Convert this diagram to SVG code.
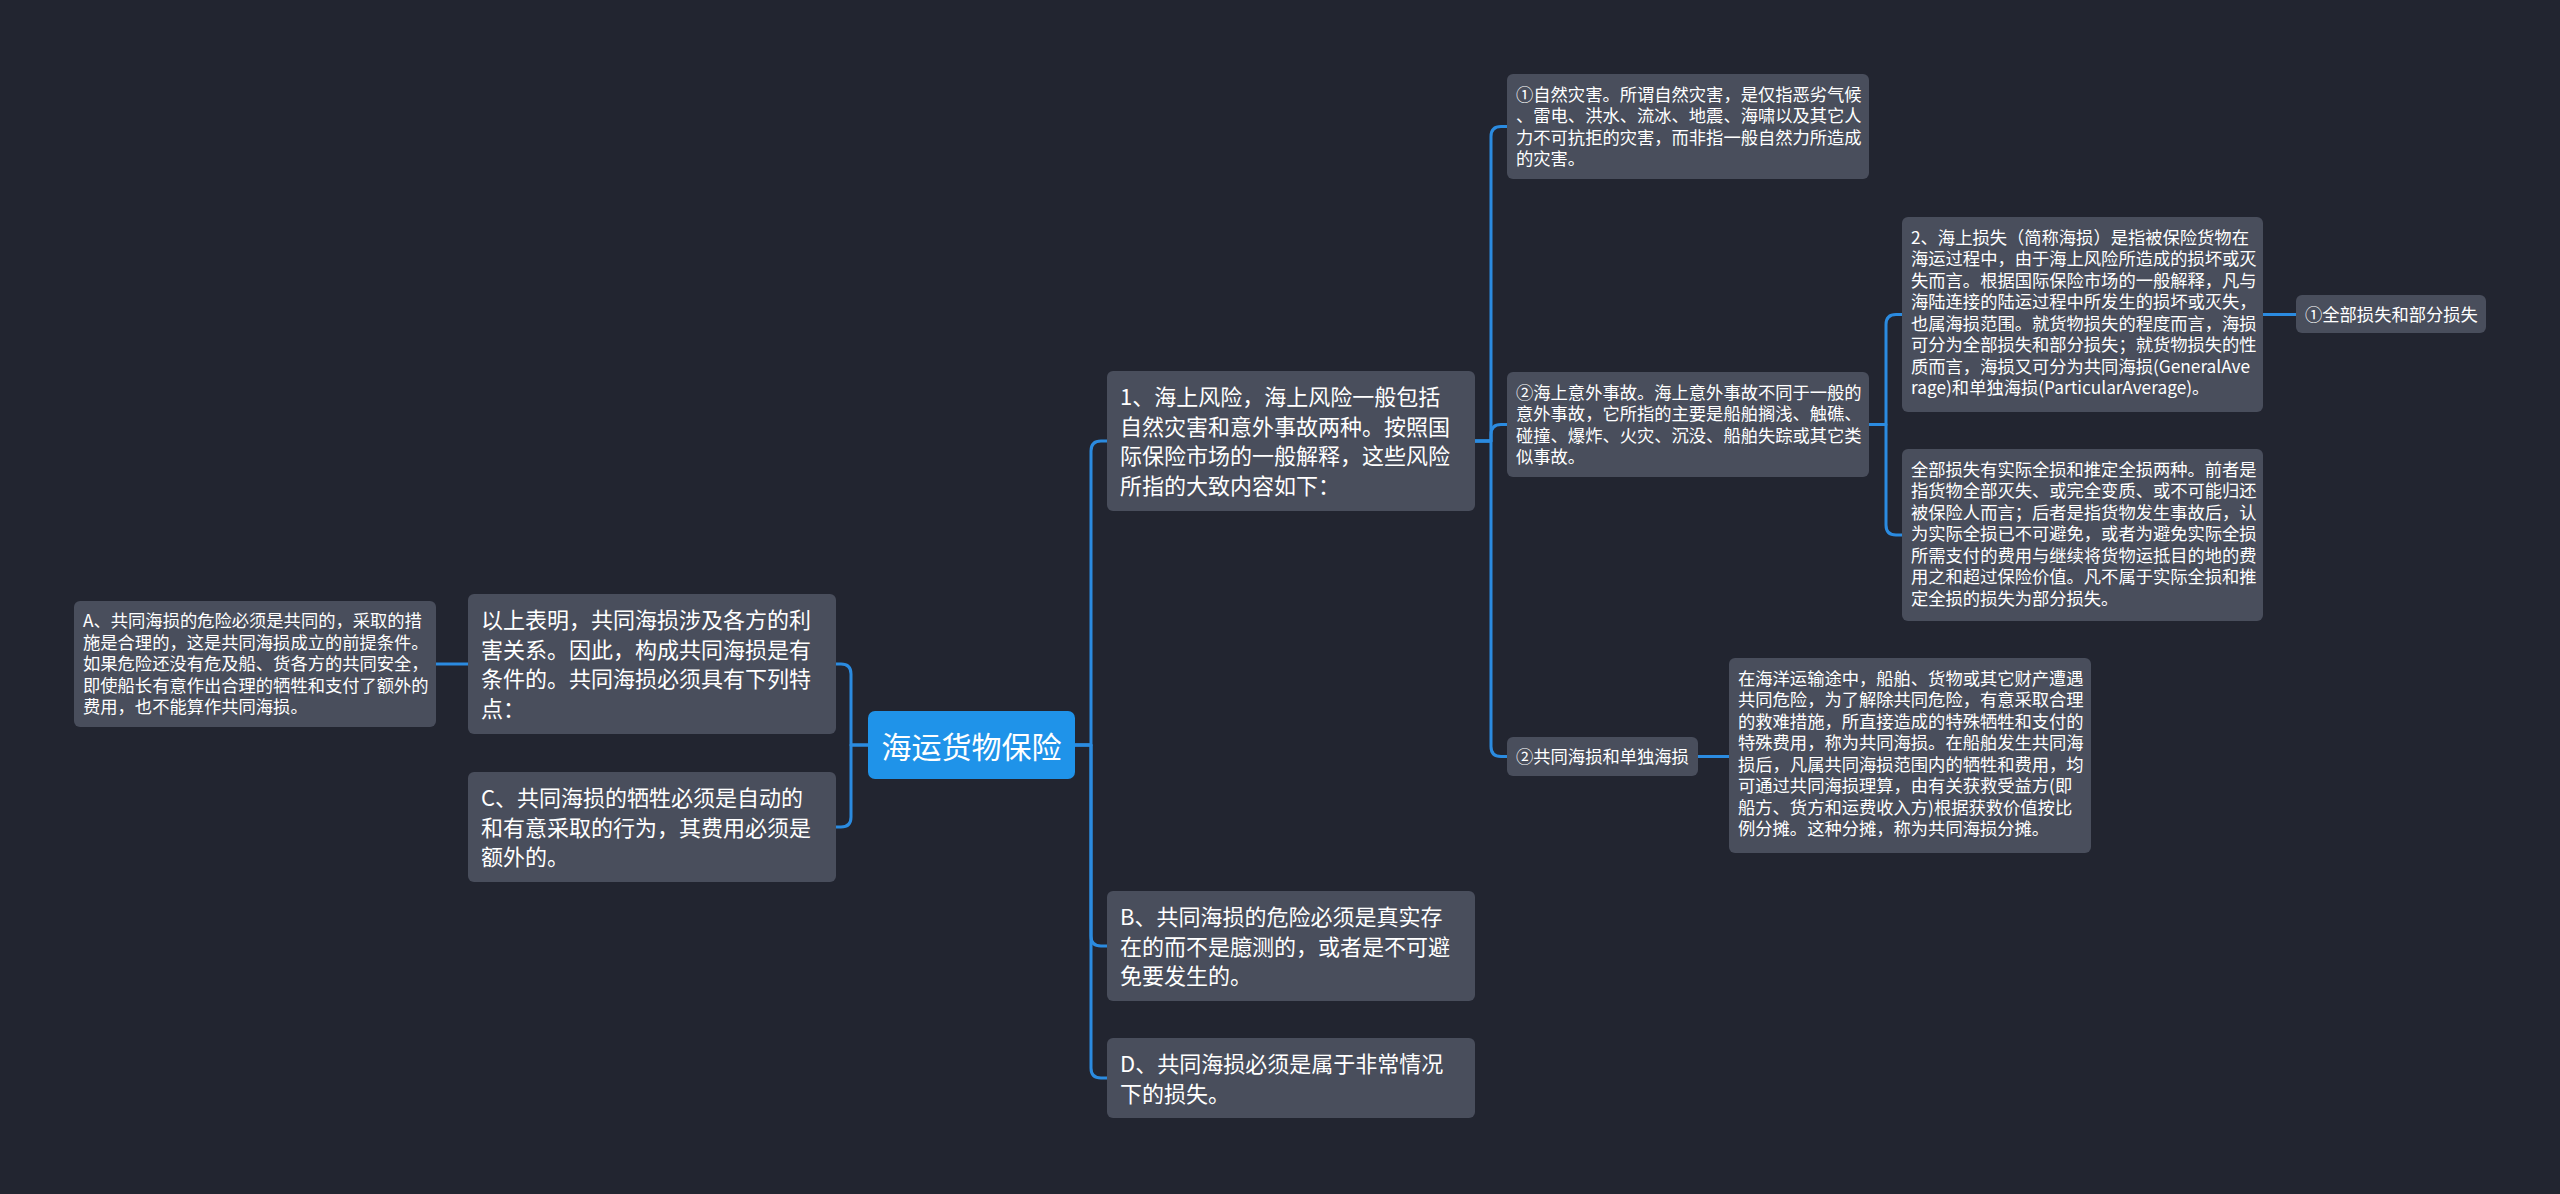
<svg xmlns="http://www.w3.org/2000/svg" width="2560" height="1194" viewBox="0 0 2560 1194">
<style>
.bg{fill:#222530}
.n{fill:#494e5c}
.root{fill:#1f93e9}
.t{fill:#ffffff;font-family:"Noto Sans CJK SC","Noto Sans",sans-serif}
.big{font-size:22px}
.sm{font-size:17.3px}
.rt{font-size:30px}
.c{fill:none;stroke:#2b8be0;stroke-width:3;stroke-linejoin:round}
</style>
<rect class="bg" x="0" y="0" width="2560" height="1194"/>
<g id="connectors">
<path class="c" d="M1075,745 H1091 V451 Q1091,441 1101,441 H1107"/>
<path class="c" d="M1075,745 H1091 V936 Q1091,946 1101,946 H1107"/>
<path class="c" d="M1075,745 H1091 V1068 Q1091,1078 1101,1078 H1107"/>
<path class="c" d="M868,745 H851 V674 Q851,664 841,664 H836"/>
<path class="c" d="M868,745 H851 V817 Q851,827 841,827 H836"/>
<path class="c" d="M468,664 H436"/>
<path class="c" d="M1475,441 H1491 V136.5 Q1491,126.5 1501,126.5 H1507"/>
<path class="c" d="M1475,441 H1491 V434.5 Q1491,424.5 1501,424.5 H1507"/>
<path class="c" d="M1475,441 H1491 V746.5 Q1491,756.5 1501,756.5 H1507"/>
<path class="c" d="M1869,424.5 H1886 V324.5 Q1886,314.5 1896,314.5 H1902"/>
<path class="c" d="M1869,424.5 H1886 V525 Q1886,535 1896,535 H1902"/>
<path class="c" d="M2263,314.5 H2296"/>
<path class="c" d="M1698,756.5 H1729"/>
</g>
<g id="root">
<rect class="root" x="868" y="711" width="207" height="68" rx="7"/>
<text class="t rt" x="971.5" y="758" text-anchor="middle">海运货物保险</text>
</g>
<g id="n1">
<rect class="n" x="1107" y="371" width="368" height="140" rx="6"/>
<text class="t big" x="1120"><tspan x="1120" y="405">1、海上风险，海上风险一般包括</tspan><tspan x="1120" y="434.7">自然灾害和意外事故两种。按照国</tspan><tspan x="1120" y="464.4">际保险市场的一般解释，这些风险</tspan><tspan x="1120" y="494.1">所指的大致内容如下：</tspan></text>
</g>
<g id="nB">
<rect class="n" x="1107" y="891" width="368" height="110" rx="6"/>
<text class="t big"><tspan x="1120" y="925">B、共同海损的危险必须是真实存</tspan><tspan x="1120" y="954.7">在的而不是臆测的，或者是不可避</tspan><tspan x="1120" y="984.4">免要发生的。</tspan></text>
</g>
<g id="nD">
<rect class="n" x="1107" y="1038" width="368" height="80" rx="6"/>
<text class="t big"><tspan x="1120" y="1072">D、共同海损必须是属于非常情况</tspan><tspan x="1120" y="1101.7">下的损失。</tspan></text>
</g>
<g id="nYS">
<rect class="n" x="468" y="594" width="368" height="140" rx="6"/>
<text class="t big"><tspan x="481" y="628">以上表明，共同海损涉及各方的利</tspan><tspan x="481" y="657.7">害关系。因此，构成共同海损是有</tspan><tspan x="481" y="687.4">条件的。共同海损必须具有下列特</tspan><tspan x="481" y="717.1">点：</tspan></text>
</g>
<g id="nC">
<rect class="n" x="468" y="772" width="368" height="110" rx="6"/>
<text class="t big"><tspan x="481" y="806">C、共同海损的牺牲必须是自动的</tspan><tspan x="481" y="835.7">和有意采取的行为，其费用必须是</tspan><tspan x="481" y="865.4">额外的。</tspan></text>
</g>
<g id="nA">
<rect class="n" x="74" y="601" width="362" height="126" rx="6"/>
<text class="t sm"><tspan x="83" y="627">A、共同海损的危险必须是共同的，采取的措</tspan><tspan x="83" y="648.5">施是合理的，这是共同海损成立的前提条件。</tspan><tspan x="83" y="670">如果危险还没有危及船、货各方的共同安全，</tspan><tspan x="83" y="691.5">即使船长有意作出合理的牺牲和支付了额外的</tspan><tspan x="83" y="713">费用，也不能算作共同海损。</tspan></text>
</g>
<g id="nZR">
<rect class="n" x="1507" y="74" width="362" height="105" rx="6"/>
<text class="t sm"><tspan x="1516" y="100.5">①自然灾害。所谓自然灾害，是仅指恶劣气候</tspan><tspan x="1516" y="122">、雷电、洪水、流冰、地震、海啸以及其它人</tspan><tspan x="1516" y="143.5">力不可抗拒的灾害，而非指一般自然力所造成</tspan><tspan x="1516" y="165">的灾害。</tspan></text>
</g>
<g id="nYW">
<rect class="n" x="1507" y="372" width="362" height="105" rx="6"/>
<text class="t sm"><tspan x="1516" y="398.5">②海上意外事故。海上意外事故不同于一般的</tspan><tspan x="1516" y="420">意外事故，它所指的主要是船舶搁浅、触礁、</tspan><tspan x="1516" y="441.5">碰撞、爆炸、火灾、沉没、船舶失踪或其它类</tspan><tspan x="1516" y="463">似事故。</tspan></text>
</g>
<g id="nGT">
<rect class="n" x="1507" y="737" width="191" height="39" rx="6"/>
<text class="t sm" x="1516" y="763">②共同海损和单独海损</text>
</g>
<g id="nHS">
<rect class="n" x="1902" y="217" width="361" height="195" rx="6"/>
<text class="t sm"><tspan x="1911" y="243.5">2、海上损失（简称海损）是指被保险货物在</tspan><tspan x="1911" y="265">海运过程中，由于海上风险所造成的损坏或灭</tspan><tspan x="1911" y="286.5">失而言。根据国际保险市场的一般解释，凡与</tspan><tspan x="1911" y="308">海陆连接的陆运过程中所发生的损坏或灭失，</tspan><tspan x="1911" y="329.5">也属海损范围。就货物损失的程度而言，海损</tspan><tspan x="1911" y="351">可分为全部损失和部分损失；就货物损失的性</tspan><tspan x="1911" y="372.5">质而言，海损又可分为共同海损(GeneralAve</tspan><tspan x="1911" y="394">rage)和单独海损(ParticularAverage)。</tspan></text>
</g>
<g id="nQB">
<rect class="n" x="1902" y="449" width="361" height="172" rx="6"/>
<text class="t sm"><tspan x="1911" y="475.5">全部损失有实际全损和推定全损两种。前者是</tspan><tspan x="1911" y="497">指货物全部灭失、或完全变质、或不可能归还</tspan><tspan x="1911" y="518.5">被保险人而言；后者是指货物发生事故后，认</tspan><tspan x="1911" y="540">为实际全损已不可避免，或者为避免实际全损</tspan><tspan x="1911" y="561.5">所需支付的费用与继续将货物运抵目的地的费</tspan><tspan x="1911" y="583">用之和超过保险价值。凡不属于实际全损和推</tspan><tspan x="1911" y="604.5">定全损的损失为部分损失。</tspan></text>
</g>
<g id="nQF">
<rect class="n" x="2296" y="295" width="190" height="38" rx="6"/>
<text class="t sm" x="2305" y="321">①全部损失和部分损失</text>
</g>
<g id="nHY">
<rect class="n" x="1729" y="658" width="362" height="195" rx="6"/>
<text class="t sm"><tspan x="1738" y="684.5">在海洋运输途中，船舶、货物或其它财产遭遇</tspan><tspan x="1738" y="706">共同危险，为了解除共同危险，有意采取合理</tspan><tspan x="1738" y="727.5">的救难措施，所直接造成的特殊牺牲和支付的</tspan><tspan x="1738" y="749">特殊费用，称为共同海损。在船舶发生共同海</tspan><tspan x="1738" y="770.5">损后，凡属共同海损范围内的牺牲和费用，均</tspan><tspan x="1738" y="792">可通过共同海损理算，由有关获救受益方(即</tspan><tspan x="1738" y="813.5">船方、货方和运费收入方)根据获救价值按比</tspan><tspan x="1738" y="835">例分摊。这种分摊，称为共同海损分摊。</tspan></text>
</g>
</svg>
